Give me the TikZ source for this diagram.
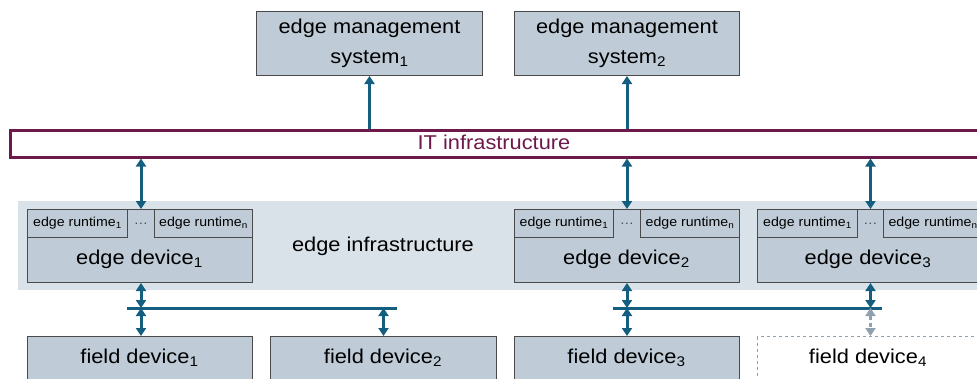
\documentclass[tikz,border=0pt]{standalone}
\usepackage{fontspec}
\setmainfont{Liberation Sans}[FakeStretch=1.09]
\usetikzlibrary{arrows.meta,calc}
\definecolor{boxfill}{HTML}{BFCCD8}
\definecolor{infrabg}{HTML}{DAE2E9}
\definecolor{arrowblue}{HTML}{145F80}
\definecolor{itpurple}{HTML}{6E194B}
\definecolor{boxline}{HTML}{4A4A4A}
\definecolor{ghost}{HTML}{8FA0AE}
\tikzset{
  tip/.style={Triangle[length=8pt,width=10pt]},
  box/.style={draw=boxline, line width=1pt, fill=boxfill, inner sep=0pt, anchor=north west,
    font=\fontsize{20}{30}\selectfont, align=center},
  rtbox/.style={draw=boxline, line width=1pt, fill=boxfill, inner sep=0pt, anchor=north west,
    font=\fontsize{13}{15}\selectfont, minimum height=28pt},
  dotsbox/.style={inner sep=0pt, font=\fontsize{13}{15}\selectfont, text=boxline},
  lbl/.style={font=\fontsize{20}{24}\selectfont, inner sep=0pt},
  conn/.style={draw=arrowblue, line width=3pt, {Triangle[length=8pt,width=10pt]}-{Triangle[length=8pt,width=10pt]}},
  upconn/.style={draw=arrowblue, line width=3pt, -{Triangle[length=8pt,width=10pt]}},
  bus/.style={draw=arrowblue, line width=3pt},
  ghostconn/.style={draw=ghost, line width=3pt, dash pattern=on 4pt off 3pt, {Triangle[length=8pt,width=10pt]}-{Triangle[length=8pt,width=10pt]}},
}
\begin{document}
\begin{tikzpicture}[x=1pt,y=-1pt]
\useasboundingbox (0,0) rectangle (977,378);
\clip (0,0) rectangle (977,378);
% edge infrastructure background
\node[fill=infrabg, inner sep=0pt, anchor=north west, minimum width=980pt, minimum height=89pt] (infra) at (18,201) {};
\node[lbl] (infralbl) at (383,246) {edge infrastructure};
% management systems
\node[box, minimum width=226pt, minimum height=64pt] (ems1) at (256,11) {edge management\\system\textsubscript{1}};
\node[box, minimum width=225pt, minimum height=64pt] (ems2) at (514,11) {edge management\\system\textsubscript{2}};
% IT infrastructure
\node[draw=itpurple, line width=3pt, fill=white, inner sep=0pt, anchor=north west,
  minimum width=980pt, minimum height=27pt] (it) at (9,128.5) {};
\node[lbl, text=itpurple] (itlbl) at (494,142) {IT infrastructure};
% edge devices
\node[box, minimum width=225pt, minimum height=73pt] (dev1) at (27,209) {};
\node[rtbox, minimum width=100pt] (rt11) at (27,209) {edge runtime\textsubscript{1}};
\node[rtbox, anchor=north east, minimum width=98pt] (rt1n) at (dev1.north east) {edge runtime\textsubscript{n}};
\node[dotsbox] (dots1) at ($(rt11.east)!0.5!(rt1n.west)$) {\dots};
\node[lbl] (dev1lbl) at (139.5,259) {edge device\textsubscript{1}};

\node[box, minimum width=225pt, minimum height=73pt] (dev2) at (514,209) {};
\node[rtbox, minimum width=99pt] (rt21) at (514,209) {edge runtime\textsubscript{1}};
\node[rtbox, anchor=north east, minimum width=99pt] (rt2n) at (dev2.north east) {edge runtime\textsubscript{n}};
\node[dotsbox] (dots2) at ($(rt21.east)!0.5!(rt2n.west)$) {\dots};
\node[lbl] (dev2lbl) at (626.5,259) {edge device\textsubscript{2}};

\node[box, minimum width=240pt, minimum height=73pt] (dev3) at (757,209) {};
\node[rtbox, minimum width=120pt, text width=120pt, align=left] (rt3n) at (883,209) {\hspace*{5pt}edge runtime\textsubscript{n}};
\node[rtbox, minimum width=100pt] (rt31) at (757,209) {edge runtime\textsubscript{1}};
\node[dotsbox] (dots3) at ($(rt31.east)!0.5!(rt3n.west)$) {\dots};
\node[lbl] (dev3lbl) at (868,259) {edge device\textsubscript{3}};
% field devices
\node[box, minimum width=225pt, minimum height=60pt] (fd1) at (27,336) {};
\node[lbl] (fd1lbl) at (139.5,358) {field device\textsubscript{1}};
\node[box, minimum width=226pt, minimum height=60pt] (fd2) at (270,336) {};
\node[lbl] (fd2lbl) at (383,358) {field device\textsubscript{2}};
\node[box, minimum width=225pt, minimum height=60pt] (fd3) at (514,336) {};
\node[lbl] (fd3lbl) at (626.5,358) {field device\textsubscript{3}};
\node[box, draw=ghost, dashed, fill=white, minimum width=240pt, minimum height=60pt] (fd4) at (757,336) {};
\node[lbl] (fd4lbl) at (868,358) {field device\textsubscript{4}};
% buses
\coordinate (b1l) at (127,308);
\coordinate (b1r) at (397,308);
\coordinate (b2l) at (613,308);
\coordinate (b2r) at (882,308);
\draw[bus] (b1l) -- (b1r);
\draw[bus] (b2l) -- (b2r);
% connectors to management systems
\draw[upconn] (ems1.south |- it.north) -- (ems1.south);
\draw[upconn] (ems2.south |- it.north) -- (ems2.south);
% IT to edge devices
\draw[conn] (dots1 |- it.south) -- (dots1 |- dev1.north);
\draw[conn] (dev2.north |- it.south) -- (dev2.north);
\draw[conn] (dots3 |- it.south) -- (dots3 |- dev3.north);
% edge devices to buses
\draw[conn] (dots1 |- dev1.south) -- (dots1 |- b1l);
\draw[conn] (dev2.south) -- (dev2.south |- b2l);
\draw[conn] (dots3 |- dev3.south) -- (dots3 |- b2r);
% buses to field devices
\draw[conn] (dots1 |- b1l) -- (dots1 |- fd1.north);
\draw[conn] (fd2.north |- b1l) -- (fd2.north);
\draw[conn] (fd3.north |- b2l) -- (fd3.north);
\draw[ghostconn] (dots3 |- b2r) -- (dots3 |- fd4.north);
\end{tikzpicture}
\end{document}
